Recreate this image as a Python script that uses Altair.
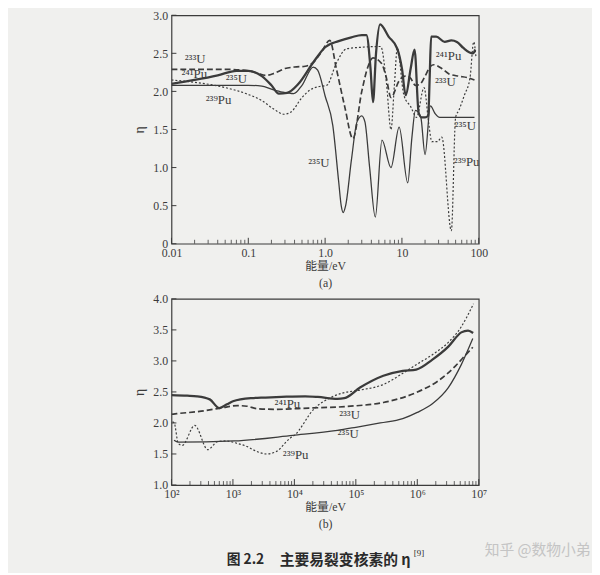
import altair as alt
import pandas as pd
import math

# ---------------- panel (a): 0.01 - 100 eV ----------------
a_pu241_E = [0.01, 0.02, 0.04, 0.07, 0.1, 0.15, 0.2, 0.25, 0.32, 0.45, 0.7, 1.0, 1.5, 2.2, 3.0, 3.45, 3.9, 4.2, 4.6, 5.2,
             6.7, 8.7, 10.0, 11.2, 13.0, 14.6, 16.5, 18.0, 20.0, 22.0, 23.0, 24.0, 28.0, 36.0, 44.0, 52.0, 63.0, 76.0, 84.0, 90.0]
a_pu241_eta = [2.10, 2.15, 2.21, 2.27, 2.27, 2.20, 2.08, 1.97, 1.98, 2.10, 2.38, 2.58, 2.66, 2.71, 2.74, 2.74, 2.30, 1.86, 2.50, 2.88,
               2.72, 2.56, 2.30, 1.95, 2.30, 2.55, 1.72, 1.66, 1.66, 1.68, 2.20, 2.72, 2.72, 2.65, 2.67, 2.65, 2.57, 2.51, 2.50, 2.55]

a_u235_E = [0.01, 0.05, 0.1, 0.15, 0.2, 0.28, 0.39, 0.5, 0.7, 0.8, 1.0, 1.26, 1.5, 1.62, 1.72, 1.85, 2.2, 2.6, 3.0, 3.3,
            3.8, 4.5, 5.5, 7.2, 9.2, 11.9, 13.5, 15.0, 17.6, 20.0, 23.5, 27.0, 31.0, 88.0]
a_u235_eta = [2.08, 2.08, 2.08, 2.07, 2.03, 1.99, 1.97, 2.08, 2.32, 2.28, 1.94, 1.55, 0.82, 0.50, 0.41, 0.50, 1.10, 1.60, 1.68, 1.60,
              1.00, 0.35, 1.36, 1.00, 1.53, 0.80, 1.40, 1.75, 1.66, 1.17, 1.81, 1.71, 1.66, 1.66]

a_u233_E = [0.01, 0.05, 0.1, 0.13, 0.17, 0.22, 0.3, 0.4, 0.55, 0.7, 0.9, 1.15, 1.4, 1.8, 2.3, 3.0, 3.6, 4.2, 5.4, 6.2,
            7.2, 9.2, 11.0, 12.8, 15.0, 17.0, 20.0, 23.5, 26.0, 33.0, 41.0, 55.0, 72.0, 88.0]
a_u233_eta = [2.29, 2.29, 2.27, 2.24, 2.21, 2.24, 2.30, 2.32, 2.33, 2.38, 2.52, 2.67, 2.30, 1.80, 1.38, 2.00, 2.32, 2.44, 2.37, 2.20,
              1.92, 2.14, 2.20, 2.18, 2.08, 2.09, 2.20, 2.33, 2.35, 2.30, 2.23, 2.20, 2.18, 2.15]

a_pu239_E = [0.01, 0.02, 0.05, 0.1, 0.15, 0.22, 0.29, 0.36, 0.5, 0.64, 0.8, 1.05, 1.4, 1.9, 3.0, 5.3, 6.3, 7.2, 8.0, 8.7,
             10.6, 13.0, 15.5, 19.4, 22.5, 24.5, 29.0, 33.0, 44.0, 50.0, 55.0, 65.0, 77.0, 86.0, 92.0]
a_pu239_eta = [2.15, 2.12, 2.05, 1.96, 1.88, 1.76, 1.70, 1.73, 1.92, 2.02, 2.06, 2.08, 2.37, 2.56, 2.58, 2.59, 2.10, 1.50, 2.10, 2.57,
               1.95, 1.80, 1.66, 2.05, 1.55, 1.34, 1.34, 1.40, 0.17, 1.66, 1.75, 1.95, 2.18, 2.65, 2.45]

a_lab_text = ["²³³U", "²⁴¹Pu", "²³⁵U", "²³⁹Pu", "²³⁵U", "²⁴¹Pu", "²³³U", "²³⁵U", "²³⁹Pu"]
a_lab_E = [0.0203, 0.0198, 0.070, 0.041, 0.83, 40.4, 36.7, 66.7, 69.6]
a_lab_eta = [2.42, 2.23, 2.16, 1.88, 1.06, 2.46, 2.12, 1.55, 1.07]

a_x_ticks = [0.01, 0.1, 1.0, 10.0, 100.0]
a_x_labels = ["0.01", "0.1", "1.0", "10", "100"]
a_y_ticks = [0.0, 0.5, 1.0, 1.5, 2.0, 2.5, 3.0]

# ---------------- panel (b): 1e2 - 1e7 eV ----------------
b_pu241_E = [100, 180, 260, 420, 600, 800, 1000, 2000, 3400, 6200, 15000, 24000, 50000, 65000, 1.17e5, 2.8e5, 5.8e5,
             9.6e5, 1.76e6, 3.2e6, 5.2e6, 6.7e6, 8.1e6]
b_pu241_eta = [2.45, 2.44, 2.43, 2.38, 2.24, 2.30, 2.35, 2.40, 2.41, 2.42, 2.43, 2.42, 2.39, 2.40, 2.57, 2.76, 2.84,
               2.86, 3.02, 3.23, 3.46, 3.49, 3.45]

b_u233_E = [100, 122, 305, 636, 1180, 1700, 2450, 5100, 17000, 82000, 2.8e5, 9.6e5, 2.2e6, 4.2e6, 6.3e6, 8.0e6]
b_u233_eta = [2.14, 2.15, 2.19, 2.24, 2.28, 2.27, 2.23, 2.22, 2.24, 2.27, 2.33, 2.49, 2.68, 2.92, 3.11, 3.22]

b_u235_E = [110, 129, 1040, 9450, 5e4, 1e5, 2.5e5, 5.8e5, 1e6, 1.76e6, 3.2e6, 5.2e6, 8.0e6]
b_u235_eta = [1.72, 1.69, 1.71, 1.80, 1.88, 1.93, 2.00, 2.07, 2.17, 2.31, 2.57, 2.94, 3.36]

b_pu239_E = [104, 111, 129, 150, 239, 390, 563, 767, 1180, 1700, 2450, 3540, 5100, 8400, 1.0e4, 2.1e4, 3.9e4, 6e4,
             1.17e5, 2.8e5, 5.8e5, 1.0e6, 1.76e6, 3.2e6, 5.2e6, 6.5e6, 8.2e6]
b_pu239_eta = [2.02, 2.00, 1.67, 1.64, 1.96, 1.57, 1.70, 1.71, 1.67, 1.62, 1.54, 1.50, 1.54, 1.75, 1.80, 2.23, 2.41, 2.48,
               2.53, 2.62, 2.80, 2.95, 3.10, 3.30, 3.55, 3.72, 3.92]

b_lab_text = ["²⁴¹Pu", "²³³U", "²³⁵U", "²³⁹Pu"]
b_lab_E = [7700, 7.9e4, 7.5e4, 1.05e4]
b_lab_eta = [2.31, 2.12, 1.82, 1.48]

b_x_ticks = [1e2, 1e3, 1e4, 1e5, 1e6, 1e7]
b_x_labels = ["10²", "10³", "10⁴", "10⁵", "10⁶", "10⁷"]
b_y_ticks = [1.0, 1.5, 2.0, 2.5, 3.0, 3.5, 4.0]

caption_fig = "图 2.2"
caption_text = "主要易裂变核素的 η"
caption_ref = "[9]"
watermark = "知乎 @数物小弟"

SERIF = "Liberation Serif, DejaVu Serif, Noto Sans CJK SC, serif"
CJK = "Noto Sans CJK SC"
INK = "#3b3b3b"
BG = "#f0f0ee"

STYLE_PU241 = dict(strokeWidth=2.3)
STYLE_U235 = dict(strokeWidth=1.3)
STYLE_U233 = dict(strokeWidth=1.7, strokeDash=[6, 3])
STYLE_PU239 = dict(strokeWidth=1.2, strokeDash=[2, 2])


def minor_ticks(majors):
    out = []
    for m in majors[:-1]:
        for k in range(2, 10):
            out.append(m * k)
    return out


def panel(series, xdom, ydom, w, h, xticks, xlabels, yticks, ylabexpr, xtitle, labs):
    expr = "[" + ",".join("'%s'" % s for s in xlabels) + "][round(log(datum.value)/LN10) - (%d)]" % round(
        math.log10(xdom[0]))
    xaxis = alt.Axis(values=xticks, labelExpr=expr, ticks=False, domain=False, grid=False,
                     labelFont=SERIF, labelFontSize=12, labelColor=INK, labelPadding=4,
                     labelOverlap=False, labelFlush=False, labelBound=False,
                     title=xtitle, titleFont=SERIF, titleFontSize=12, titleFontWeight="normal",
                     titleColor=INK, titlePadding=2, titleLineHeight=17)
    yaxis = alt.Axis(values=yticks, labelExpr=ylabexpr, ticks=False, domain=False, grid=False,
                     labelFont=SERIF, labelFontSize=12, labelColor=INK, labelPadding=4,
                     labelOverlap=False, labelFlush=False, labelBound=False,
                     title="η", titleFont=SERIF, titleFontSize=14, titleFontWeight="normal",
                     titleColor=INK, titlePadding=6)
    xs = alt.Scale(type="log", domain=xdom, nice=False)
    ys = alt.Scale(domain=ydom, nice=False, zero=False)
    X = alt.X("E:Q", scale=xs, axis=xaxis)
    Y = alt.Y("eta:Q", scale=ys, axis=yaxis)

    layers = []
    for E, eta, st in series:
        layers.append(alt.Chart(pd.DataFrame({"E": E, "eta": eta})).mark_line(
            interpolate="monotone", color=INK, clip=True, **st).encode(x=X, y=Y))

    majors = pd.DataFrame({"E": xticks})
    minors = pd.DataFrame({"E": minor_ticks(xticks)})
    layers.append(alt.Chart(majors).mark_rule(color=INK, strokeWidth=1).encode(
        x=X, y=alt.value(h), y2=alt.value(h - 6)))
    layers.append(alt.Chart(minors).mark_rule(color=INK, strokeWidth=0.8).encode(
        x=X, y=alt.value(h), y2=alt.value(h - 4)))
    layers.append(alt.Chart(pd.DataFrame({"eta": yticks})).mark_rule(color=INK, strokeWidth=1).encode(
        y=Y, x=alt.value(0), x2=alt.value(5)))

    E, eta, txt = labs
    layers.append(alt.Chart(pd.DataFrame({"E": E, "eta": eta, "t": txt})).mark_text(
        font=SERIF, fontSize=13, color=INK, baseline="middle", align="center").encode(x=X, y=Y, text="t:N"))
    return layers


la = panel([(a_pu241_E, a_pu241_eta, STYLE_PU241), (a_u235_E, a_u235_eta, STYLE_U235),
            (a_u233_E, a_u233_eta, STYLE_U233), (a_pu239_E, a_pu239_eta, STYLE_PU239)],
           [0.01, 100], [0, 3], 312, 232, a_x_ticks, a_x_labels, a_y_ticks,
           "datum.value == 0 ? '0' : format(datum.value, '.1f')", ["能量/eV", "(a)"],
           (a_lab_E, a_lab_eta, a_lab_text))

lb = panel([(b_pu241_E, b_pu241_eta, STYLE_PU241), (b_u235_E, b_u235_eta, STYLE_U235),
            (b_u233_E, b_u233_eta, STYLE_U233), (b_pu239_E, b_pu239_eta, STYLE_PU239)],
           [1e2, 1e7], [1, 4], 312, 189, b_x_ticks, b_x_labels, b_y_ticks,
           "format(datum.value, '.1f')", ["能量/eV", "(b)"],
           (b_lab_E, b_lab_eta, b_lab_text))

# caption and watermark (annotation text placed relative to panel b)
lb.append(alt.Chart(pd.DataFrame({"t": [caption_fig]})).mark_text(
    font=CJK, fontSize=14, fontWeight="bold", color="#2a2a2a", align="left", baseline="middle").encode(
    x=alt.value(56), y=alt.value(265), text="t:N"))
lb.append(alt.Chart(pd.DataFrame({"t": [caption_text]})).mark_text(
    font=CJK, fontSize=15, fontWeight="bold", color="#2a2a2a", align="left", baseline="middle").encode(
    x=alt.value(110), y=alt.value(265), text="t:N"))
lb.append(alt.Chart(pd.DataFrame({"t": [caption_ref]})).mark_text(
    font=SERIF, fontSize=9, color="#2a2a2a", align="left", baseline="middle").encode(
    x=alt.value(246), y=alt.value(258), text="t:N"))
lb.append(alt.Chart(pd.DataFrame({"t": [watermark]})).mark_text(
    font=CJK, fontSize=15, color="#c4c4c4", align="left", baseline="middle").encode(
    x=alt.value(318), y=alt.value(255), text="t:N"))

pa = alt.layer(*la).properties(width=312, height=232)
pb = alt.layer(*lb).properties(width=312, height=189)

chart = alt.vconcat(pa, pb, spacing=3).properties(
    background=BG,
    padding={"left": 126, "top": -4, "right": 0, "bottom": 0},
).configure_view(stroke=INK, strokeWidth=1.2)

chart.save("out.html", embed_options={"renderer": "svg", "actions": False})
